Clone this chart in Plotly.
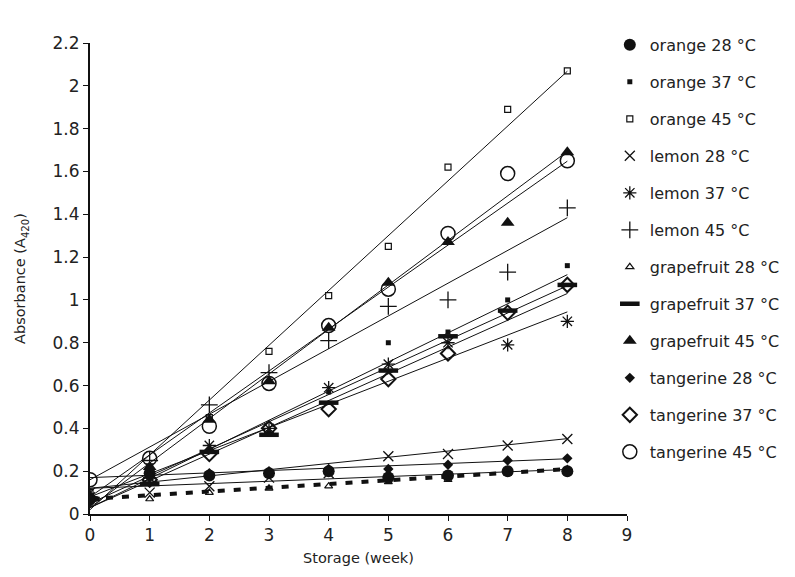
import plotly.graph_objects as go

weeks = [0, 1, 2, 3, 4, 5, 6, 7, 8]

series_names = ["orange 28 °C", "orange 37 °C", "orange 45 °C",
                "lemon 28 °C", "lemon 37 °C", "lemon 45 °C",
                "grapefruit 28 °C", "grapefruit 37 °C", "grapefruit 45 °C",
                "tangerine 28 °C", "tangerine 37 °C", "tangerine 45 °C"]

orange_28 = [0.07, 0.19, 0.18, 0.19, 0.20, 0.17, 0.18, 0.20, 0.20]
orange_37 = [0.07, 0.20, 0.30, 0.38, 0.57, 0.80, 0.85, 1.00, 1.16]
orange_45 = [0.10, 0.22, 0.45, 0.76, 1.02, 1.25, 1.62, 1.89, 2.07]
lemon_28 = [0.10, 0.10, 0.13, 0.17, 0.19, 0.27, 0.28, 0.32, 0.35]
lemon_37 = [0.08, 0.17, 0.32, 0.40, 0.59, 0.70, 0.80, 0.79, 0.90]
lemon_45 = [0.08, 0.25, 0.51, 0.66, 0.81, 0.97, 1.00, 1.13, 1.43]
grapefruit_28 = [0.07, 0.07, 0.10, 0.12, 0.13, 0.15, 0.16, 0.19, 0.21]
grapefruit_37 = [0.07, 0.14, 0.29, 0.37, 0.52, 0.67, 0.83, 0.95, 1.07]
grapefruit_45 = [0.07, 0.22, 0.44, 0.62, 0.87, 1.08, 1.27, 1.36, 1.69]
tangerine_28 = [0.07, 0.17, 0.19, 0.20, 0.21, 0.21, 0.23, 0.25, 0.26]
tangerine_37 = [0.07, 0.16, 0.28, 0.40, 0.49, 0.63, 0.75, 0.94, 1.07]
tangerine_45 = [0.16, 0.26, 0.41, 0.61, 0.88, 1.05, 1.31, 1.59, 1.65]

# linear trend lines: intercept and slope per series
trend_intercept = [0.12, 0.03, 0.02, 0.12, 0.08, 0.16, 0.07, 0.05, 0.03, 0.17, 0.03, 0.08]
trend_slope = [0.011, 0.136, 0.256, 0.029, 0.108, 0.153, 0.0175, 0.127, 0.208, 0.011, 0.125, 0.196]

x_ticks = [0, 1, 2, 3, 4, 5, 6, 7, 8, 9]
y_ticks = [0, 0.2, 0.4, 0.6, 0.8, 1.0, 1.2, 1.4, 1.6, 1.8, 2.0, 2.2]

values = [orange_28, orange_37, orange_45, lemon_28, lemon_37, lemon_45,
          grapefruit_28, grapefruit_37, grapefruit_45, tangerine_28, tangerine_37, tangerine_45]

INK = "#111111"
styles = [
    dict(symbol="circle", size=12, color=INK, line=dict(width=0)),
    dict(symbol="square", size=5, color=INK, line=dict(width=0)),
    dict(symbol="square-open", size=6, color=INK, line=dict(width=1.2, color=INK)),
    dict(symbol="x-thin-open", size=10, color=INK, line=dict(width=1.3, color=INK)),
    dict(symbol="asterisk-open", size=11, color=INK, line=dict(width=1.3, color=INK)),
    dict(symbol="cross-thin-open", size=12, color=INK, line=dict(width=1.3, color=INK)),
    dict(symbol="triangle-up-open", size=7, color=INK, line=dict(width=1.2, color=INK)),
    dict(symbol="line-ew-open", size=14, color=INK, line=dict(width=4.5, color=INK)),
    dict(symbol="triangle-up", size=12, color=INK, line=dict(width=0)),
    dict(symbol="diamond", size=8, color=INK, line=dict(width=0)),
    dict(symbol="diamond-open", size=11, color=INK, line=dict(width=2, color=INK)),
    dict(symbol="circle-open", size=14, color=INK, line=dict(width=1.5, color=INK)),
]

fig = go.Figure()

# trend lines
for i in range(len(series_names)):
    a, b = trend_intercept[i], trend_slope[i]
    xs = [0, 8]
    ys = [a + b * xv for xv in xs]
    if series_names[i] == "grapefruit 28 °C":
        ln = dict(color=INK, width=4, dash="7px,9px")
    else:
        ln = dict(color=INK, width=1)
    fig.add_trace(go.Scatter(x=xs, y=ys, mode="lines", line=ln,
                             showlegend=False, hoverinfo="skip"))

for i, name in enumerate(series_names):
    fig.add_trace(go.Scatter(x=weeks, y=values[i], mode="markers", name=name,
                             marker=styles[i], legendgroup=name))

font_family = "DejaVu Sans, sans-serif"

fig.update_layout(
    width=795, height=577,
    margin=dict(l=82, r=176, t=35, b=71, autoexpand=False),
    paper_bgcolor="white", plot_bgcolor="white",
    font=dict(family=font_family, size=16, color="#222222"),
    showlegend=True,
    legend=dict(x=0.968, xanchor="left", y=1.032, yanchor="top",
                font=dict(size=16, color="#222222"),
                tracegroupgap=13.2, itemwidth=30, maxheight=577,
                bgcolor="rgba(0,0,0,0)"),
    xaxis=dict(range=[0, 9], tickvals=x_ticks, ticks="outside", ticklen=5,
               tickwidth=1, tickcolor=INK, showline=True, linecolor=INK, linewidth=2,
               showgrid=False, zeroline=False, tickfont=dict(size=17), automargin=False,
               title=dict(text="Storage (week)", font=dict(size=14.5), standoff=8)),
    yaxis=dict(range=[0, 2.2], tickvals=y_ticks, ticks="outside", ticklen=5,
               tickwidth=1, tickcolor=INK, showline=True, linecolor=INK, linewidth=2,
               showgrid=False, zeroline=False, tickfont=dict(size=17), automargin=False,
               title=dict(text="Absorbance (A<sub>420</sub>)", font=dict(size=14.5), standoff=23)),
)

fig.write_html("out.html")
